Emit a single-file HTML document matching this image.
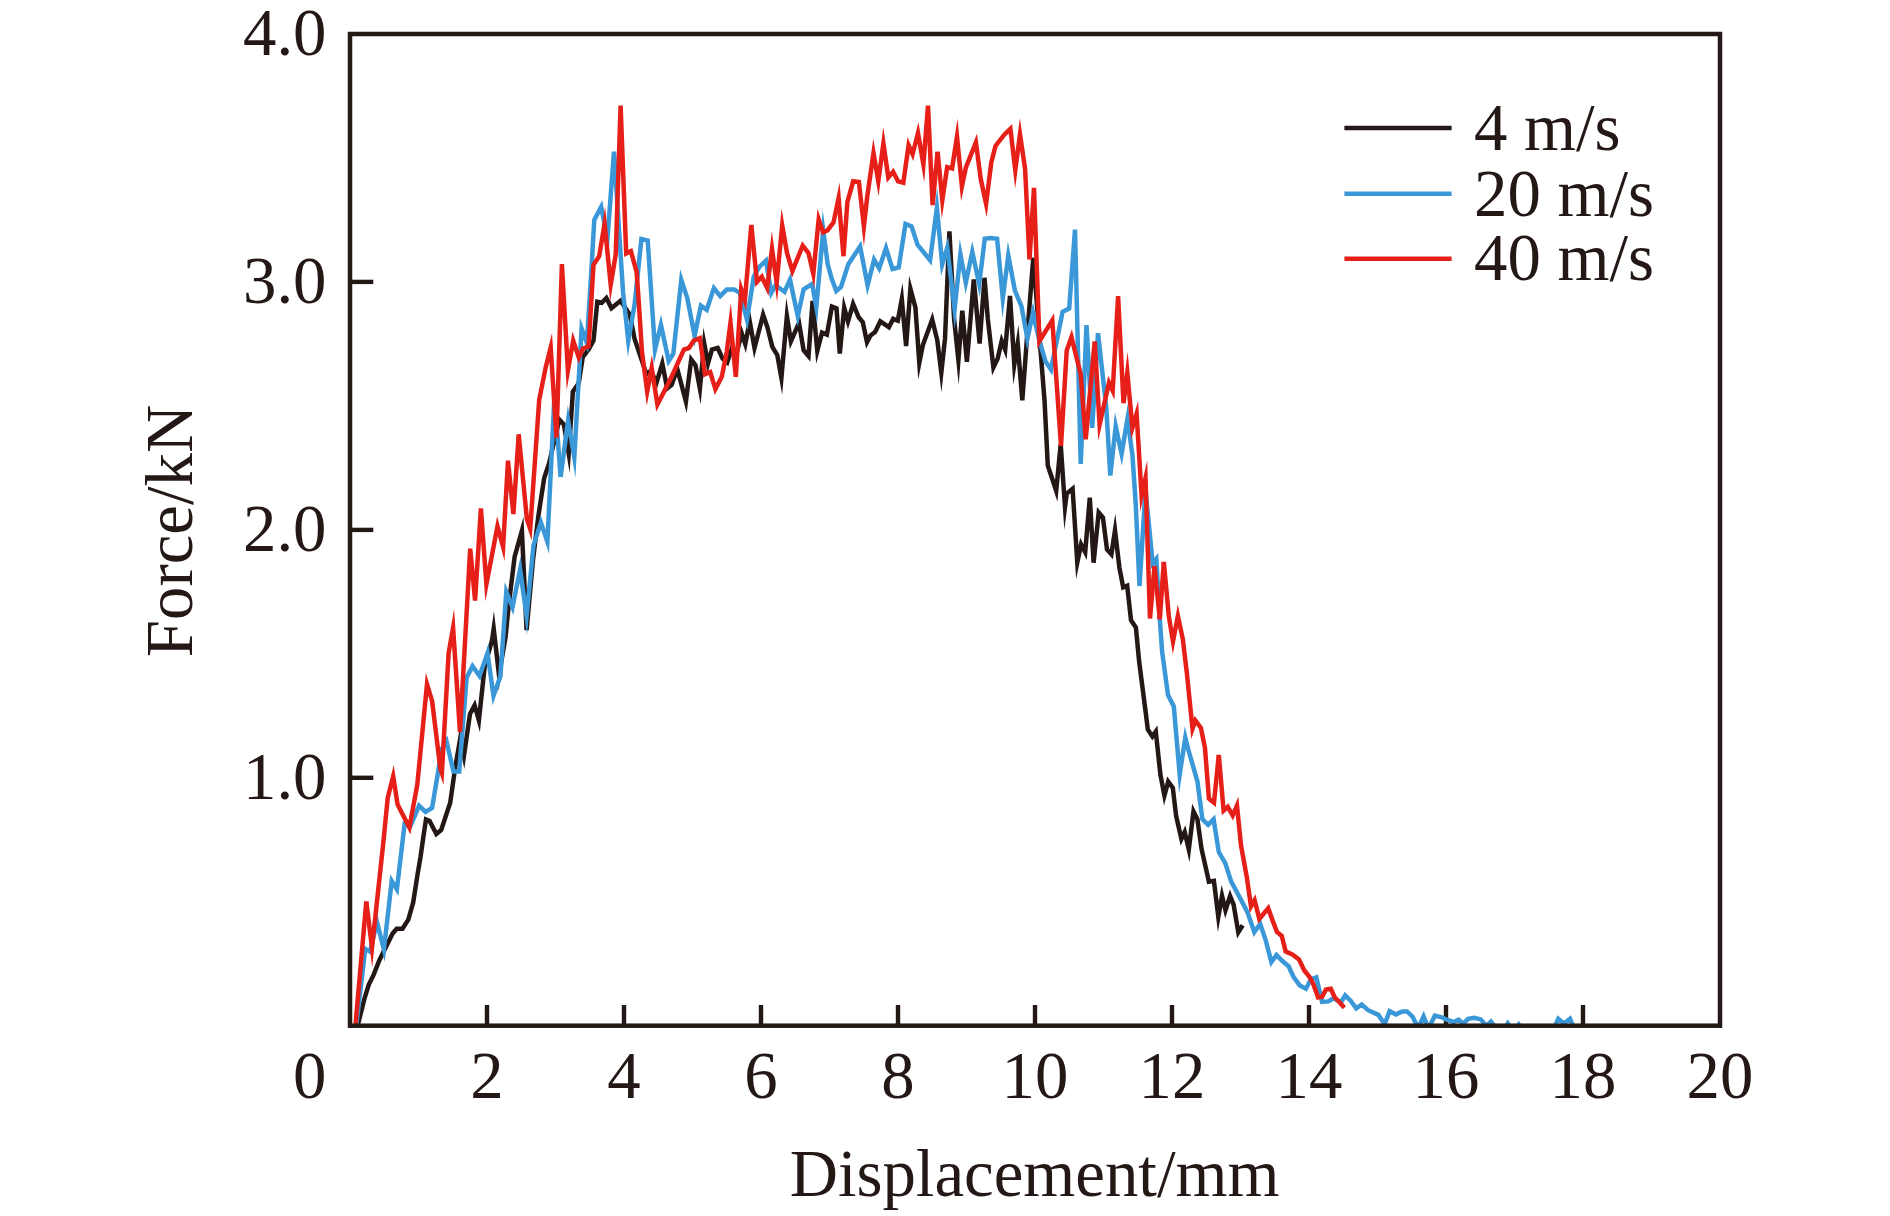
<!DOCTYPE html>
<html><head><meta charset="utf-8"><title>Force-Displacement</title>
<style>
html,body{margin:0;padding:0;background:#fff;}
body{width:1890px;height:1216px;overflow:hidden;}
svg{display:block;}
text{font-family:"Liberation Serif","Times New Roman",serif;font-size:66.8px;fill:#231815;}
.c{fill:none;stroke-width:4.5;stroke-linejoin:miter;stroke-miterlimit:11.5;stroke-linecap:butt;}
</style></head><body>
<svg width="1890" height="1216" viewBox="0 0 1890 1216">
<rect width="1890" height="1216" fill="#fff"/>
<defs><clipPath id="cp"><rect x="350" y="34" width="1370" height="990.2"/></clipPath></defs>
<g stroke="#231815" stroke-width="4.4" fill="none">
<line x1="487" y1="1025.7" x2="487" y2="1005" />
<line x1="624" y1="1025.7" x2="624" y2="1005" />
<line x1="761" y1="1025.7" x2="761" y2="1005" />
<line x1="898" y1="1025.7" x2="898" y2="1005" />
<line x1="1035" y1="1025.7" x2="1035" y2="1005" />
<line x1="1172" y1="1025.7" x2="1172" y2="1005" />
<line x1="1309" y1="1025.7" x2="1309" y2="1005" />
<line x1="1446" y1="1025.7" x2="1446" y2="1005" />
<line x1="1583" y1="1025.7" x2="1583" y2="1005" />
<line x1="350" y1="281.9" x2="373.3" y2="281.9" />
<line x1="350" y1="529.9" x2="373.3" y2="529.9" />
<line x1="350" y1="777.8" x2="373.3" y2="777.8" />
</g>
<g clip-path="url(#cp)">
<polyline class="c" stroke="#231815" points="358.1,1024.0 364.7,997.8 368.8,984.6 373.7,974.7 379.5,960.0 385.2,948.4 392.6,933.6 396.7,928.7 402.5,928.7 408.3,919.6 413.2,902.4 417.3,876.0 420.6,856.3 423.9,833.3 426.0,819.4 429.6,820.9 436.4,834.0 441.2,830.0 450.2,802.8 455.1,768.3 460.2,738.7 463.9,756.1 470.0,714.0 474.6,705.2 478.9,720.5 484.7,666.3 492.1,640.0 493.7,628.7 499.0,674.9 505.5,637.5 508.8,604.6 514.6,556.9 518.7,542.1 521.9,530.7 526.6,630.1 533.0,560.0 538.4,515.8 544.2,478.0 549.1,463.2 559.4,419.6 563.9,424.5 568.7,453.6 572.9,391.6 578.7,383.4 582.8,357.0 588.6,349.6 593.5,340.6 597.3,301.8 601.7,302.8 606.4,298.1 611.5,308.3 620.5,300.8 629.7,314.3 634.6,338.9 646.4,374.1 650.8,370.8 656.6,382.4 662.3,363.6 667.2,388.5 671.6,385.0 677.3,369.0 685.9,401.4 691.2,359.5 695.5,365.3 699.9,388.6 704.2,343.5 708.0,363.4 711.9,349.6 717.7,348.0 722.6,358.7 727.2,362.4 731.8,348.3 735.7,356.8 741.7,333.2 745.3,344.1 749.7,321.3 754.5,348.0 763.1,314.8 767.4,327.2 772.3,346.9 777.3,355.1 781.4,377.8 786.9,316.0 790.9,341.3 799.0,322.8 803.6,350.2 808.5,356.0 812.6,300.9 817.3,350.7 822.0,332.6 826.9,334.6 831.9,306.6 836.5,308.3 839.8,353.5 844.2,307.8 848.0,321.4 853.1,304.0 858.7,317.3 862.8,322.2 867.0,342.2 870.5,335.4 875.1,332.1 880.3,321.4 888.9,327.2 893.2,318.9 897.8,320.6 901.8,299.1 906.1,346.1 910.4,288.9 915.4,307.4 919.3,362.9 922.8,345.3 932.2,319.5 937.3,340.3 941.3,372.7 945.0,338.7 949.4,231.4 954.1,318.9 958.4,360.1 962.3,310.7 966.9,361.7 973.8,279.5 979.6,343.6 984.5,277.8 987.8,318.9 993.4,367.5 997.7,358.4 1001.7,340.8 1005.2,349.8 1010.0,295.9 1014.3,364.6 1017.7,343.5 1022.3,400.4 1027.3,333.8 1033.3,257.8 1039.6,338.7 1044.5,400.0 1047.8,465.7 1052.8,480.5 1056.2,490.9 1060.7,444.3 1065.0,506.9 1066.7,493.6 1072.6,488.7 1077.3,562.5 1081.1,544.4 1085.2,552.1 1089.8,497.7 1093.6,562.7 1098.7,512.5 1102.9,517.5 1107.0,549.5 1111.4,554.2 1115.0,530.3 1119.4,567.6 1123.2,587.3 1127.2,585.7 1131.0,620.2 1135.9,627.6 1139.2,662.1 1145.8,713.1 1147.8,729.5 1152.4,736.5 1155.8,731.6 1160.4,774.7 1164.4,795.6 1168.2,781.6 1172.8,787.8 1176.1,815.8 1181.4,839.0 1184.7,832.0 1188.8,849.4 1193.5,811.4 1197.4,819.1 1201.5,848.7 1208.9,881.6 1213.9,880.8 1218.3,916.9 1222.0,895.8 1225.5,910.3 1230.1,896.1 1233.6,904.6 1238.3,932.2 1242.7,925.2"/>
<polyline class="c" stroke="#3a98d8" points="356.4,1024.0 365.3,948.8 370.0,951.5 377.0,922.2 383.9,949.4 391.7,880.9 396.9,889.3 404.6,824.1 410.5,826.0 419.1,805.7 425.5,811.9 432.1,807.8 438.7,768.3 442.0,748.6 446.5,741.3 453.5,771.6 459.2,771.6 466.6,677.8 472.5,666.2 479.5,676.0 487.5,653.3 493.5,695.8 500.4,676.2 506.3,591.9 512.5,607.3 520.1,569.6 526.6,615.9 533.5,545.4 540.9,522.6 547.4,541.8 554.5,395.0 560.6,477.0"/>
<polyline class="c" stroke="#3a98d8" points="560.6,477.0 568.1,420.4 574.3,457.4 581.6,328.6 586.8,342.8 590.2,290.0 594.3,219.9 601.2,206.7 607.4,239.5 614.0,151.7 623.1,292.9 628.3,340.8 634.6,304.4 641.4,239.0 647.7,240.5 655.0,349.7 660.9,324.8 668.7,361.0 673.3,353.8 681.3,279.9 687.2,297.8 694.6,335.8 700.9,305.7 706.7,309.9 713.9,288.1 720.2,296.2 726.7,289.6 734.1,289.6 739.9,292.9 747.0,319.7 753.8,276.4 759.6,266.6 766.0,260.6 771.3,292.8 775.6,285.2 784.5,291.7 790.0,279.6 797.8,316.2 803.6,289.3 812.1,283.9 816.3,307.1 823.2,230.4 827.7,264.3 831.8,279.1 836.3,290.9 841.0,287.0 848.3,264.3 860.1,246.4 867.6,285.3 874.1,259.6 879.2,268.3 886.0,248.0 892.5,269.0 898.7,267.4 905.5,224.0 911.6,226.5 917.5,244.7 930.1,260.2 936.9,207.7 942.2,264.4 947.3,247.6 954.6,309.4 960.4,254.3 965.8,282.6 972.3,251.9 979.2,284.1 984.8,238.8 990.5,238.0 997.1,238.8 1002.8,298.1 1008.3,255.5 1014.9,290.5 1021.5,306.4 1027.4,338.6 1033.0,312.7 1039.2,340.0 1045.4,361.2 1051.0,369.5 1062.6,311.8 1069.2,308.6 1075.0,229.6 1080.7,464.0 1086.5,325.0 1092.2,427.8 1098.0,333.2 1106.2,406.4 1110.3,475.5 1115.7,426.3 1121.6,453.8 1127.5,418.7 1132.5,455.8 1135.8,505.1 1139.5,586.0 1145.5,490.0 1152.7,563.4 1156.3,558.9 1159.8,619.3 1162.2,652.2 1168.0,695.0 1173.8,706.5 1179.7,774.5 1185.3,737.6 1188.4,750.0 1197.4,781.3 1202.4,819.1 1208.1,824.8 1213.6,819.2 1218.8,852.0 1225.4,863.5 1231.2,881.6 1241.8,901.3 1247.8,913.0 1254.3,932.1 1260.2,923.9 1265.7,940.3 1271.4,962.1 1276.5,955.0 1282.4,961.0 1288.7,966.5 1293.5,976.8 1299.8,985.6 1305.9,988.7 1311.0,979.2 1316.3,977.5 1322.1,1001.9 1328.4,1001.4 1333.2,998.3 1341.1,1002.2 1345.2,995.3 1350.6,1000.6 1356.2,1008.3 1361.7,1004.6 1368.1,1010.2 1378.4,1014.9 1384.6,1024.2 1389.6,1011.2 1395.9,1014.4 1402.2,1011.4 1407.0,1011.4 1412.5,1016.5 1418.1,1028.0 1423.6,1016.4 1428.5,1028.7 1434.8,1015.7 1441.9,1017.3 1446.7,1019.7 1453.8,1022.1 1458.6,1019.7 1463.3,1023.7 1468.1,1018.9 1474.4,1017.8 1480.8,1019.4 1486.3,1026.0 1491.0,1021.6 1494.3,1026.0 1505.0,1028.0 1507.8,1023.4 1511.0,1028.0 1516.0,1028.0 1518.7,1024.6 1521.0,1028.0 1554.0,1028.0 1558.3,1018.8 1563.8,1023.5 1570.0,1018.8 1574.0,1028.0"/>
<polyline class="c" stroke="#e61f19" points="355.6,1024.0 366.3,901.5"/>
<polyline class="c" stroke="#e61f19" points="366.3,901.5 372.0,947.8 383.6,840.0 387.7,797.9 393.2,776.3 397.6,804.5 409.4,827.5 417.3,784.7 427.0,684.2 432.1,700.9 440.3,768.3 441.9,773.1 448.6,653.2 453.1,627.7 460.0,732.0 470.2,548.7 475.1,600.5 480.9,508.4 486.4,584.2 497.5,526.2 503.1,547.0 508.0,460.7 513.4,514.1 518.7,434.3 526.9,519.1 530.2,529.0 539.2,399.8 545.8,366.9 550.7,347.4 556.5,437.6 561.9,264.1 567.9,370.5 573.2,340.6 578.8,357.5 582.8,348.8 588.6,346.3 593.5,264.9 599.2,256.1 604.6,223.7 610.7,284.6 615.7,254.5 620.6,105.6 626.2,253.4 630.9,251.2 636.6,272.0 638.7,301.1 642.0,352.1 647.2,391.6 651.7,367.9 657.4,404.5 670.8,378.4 683.9,349.6 688.9,348.0 693.8,340.6 699.9,338.1 705.0,374.2 710.2,372.0 715.4,389.1 721.8,376.8 726.7,352.1 730.5,322.7 735.8,376.8 741.2,289.2 744.9,300.0 751.3,224.9"/>
<polyline class="c" stroke="#e61f19" points="751.3,224.9 757.0,281.9 761.8,276.7 767.2,288.0 772.0,248.7 776.7,282.6 782.2,225.3 787.0,253.0 792.4,271.0 802.7,245.6 808.5,253.0 813.3,273.8 818.7,219.4 823.1,232.4 827.7,230.2 833.5,222.4 838.6,198.0 843.5,256.2 847.4,201.8 853.2,181.3 858.9,182.1 863.9,226.3 867.2,196.9 873.5,153.0 878.3,181.3 883.4,143.4 888.3,177.4 893.1,171.8 898.1,181.3 903.3,182.7 908.6,145.1 912.6,154.2 918.0,133.0 923.4,164.4 928.0,105.6 932.6,205.1 937.6,151.7"/>
<polyline class="c" stroke="#e61f19" points="937.6,151.7 942.3,200.2 947.2,167.1 952.1,168.4 957.0,136.6 961.9,186.5 965.9,167.3 975.9,142.3 980.7,178.8 986.1,203.9 991.3,162.4 995.5,145.9 1004.5,134.4 1010.4,128.8 1015.3,170.3 1020.0,134.3 1025.1,168.9 1029.5,259.5 1034.0,187.9 1039.4,341.3 1052.3,320.4 1061.0,445.9 1066.7,350.5 1071.5,337.1 1080.7,374.3 1085.7,439.3 1094.7,341.4 1099.6,424.7 1109.0,382.7 1112.7,390.7 1118.1,296.2 1123.5,403.2 1127.3,372.4 1132.4,427.8 1136.6,413.7 1141.6,495.5 1145.5,478.1 1150.0,618.5 1154.5,566.0"/>
<polyline class="c" stroke="#e61f19" points="1154.5,566.0 1159.8,619.3"/>
<polyline class="c" stroke="#e61f19" points="1159.8,619.3 1163.8,561.9"/>
<polyline class="c" stroke="#e61f19" points="1163.8,561.9 1168.8,616.0 1173.0,641.5 1177.9,615.9 1182.8,639.1 1186.9,673.6 1192.5,728.8 1195.4,720.5 1200.9,727.9 1205.0,748.0 1208.9,798.5 1214.0,802.7 1218.8,754.9"/>
<polyline class="c" stroke="#e61f19" points="1218.8,754.9 1223.6,810.6 1227.8,806.8 1232.7,815.5 1237.0,805.6 1241.0,845.4 1246.8,877.0 1251.0,906.4 1254.6,900.2 1259.3,918.9 1268.2,908.2 1273.0,921.6 1277.0,932.0 1281.8,936.0 1285.6,951.4 1292.7,954.6 1299.0,959.4 1304.3,970.5 1309.4,976.8 1313.3,984.0 1318.1,997.5 1322.1,996.7 1326.0,989.5 1330.8,988.7 1334.8,997.5 1339.5,1002.2 1344.3,1007.8"/>
</g>
<rect x="350" y="34" width="1370" height="991.7" fill="none" stroke="#231815" stroke-width="4.5"/>
<g>
<text transform="translate(326.5,1098) scale(1,1.025)" text-anchor="end">0</text>
<text transform="translate(487,1098) scale(1,1.025)" text-anchor="middle">2</text>
<text transform="translate(624,1098) scale(1,1.025)" text-anchor="middle">4</text>
<text transform="translate(761,1098) scale(1,1.025)" text-anchor="middle">6</text>
<text transform="translate(898,1098) scale(1,1.025)" text-anchor="middle">8</text>
<text transform="translate(1035,1098) scale(1,1.025)" text-anchor="middle">10</text>
<text transform="translate(1172,1098) scale(1,1.025)" text-anchor="middle">12</text>
<text transform="translate(1309,1098) scale(1,1.025)" text-anchor="middle">14</text>
<text transform="translate(1446,1098) scale(1,1.025)" text-anchor="middle">16</text>
<text transform="translate(1583,1098) scale(1,1.025)" text-anchor="middle">18</text>
<text transform="translate(1720,1098) scale(1,1.025)" text-anchor="middle">20</text>
<text transform="translate(326.5,54.9) scale(1,1.02)" text-anchor="end">4.0</text>
<text transform="translate(326.5,302.8) scale(1,1.02)" text-anchor="end">3.0</text>
<text transform="translate(326.5,550.8) scale(1,1.02)" text-anchor="end">2.0</text>
<text transform="translate(326.5,798.7) scale(1,1.02)" text-anchor="end">1.0</text>
</g>
<text transform="translate(1034.5,1196) scale(1,1.0)" text-anchor="middle">Displacement/mm</text>
<text transform="translate(192,531) rotate(-90) scale(1,1.0)" text-anchor="middle">Force/kN</text>
<g stroke-width="4.4" fill="none">
<line x1="1344.4" y1="128" x2="1451.6" y2="128" stroke="#231815"/>
<line x1="1344.4" y1="193.7" x2="1451.6" y2="193.7" stroke="#3a98d8"/>
<line x1="1344.4" y1="258.7" x2="1451.6" y2="258.7" stroke="#e61f19"/>
</g>
<g>
<text transform="translate(1474,150.3) scale(1,1.02)" text-anchor="start">4 m/s</text>
<text transform="translate(1474,215.8) scale(1,1.02)" text-anchor="start">20 m/s</text>
<text transform="translate(1474,280.3) scale(1,1.02)" text-anchor="start">40 m/s</text>
</g>
</svg>
</body></html>
